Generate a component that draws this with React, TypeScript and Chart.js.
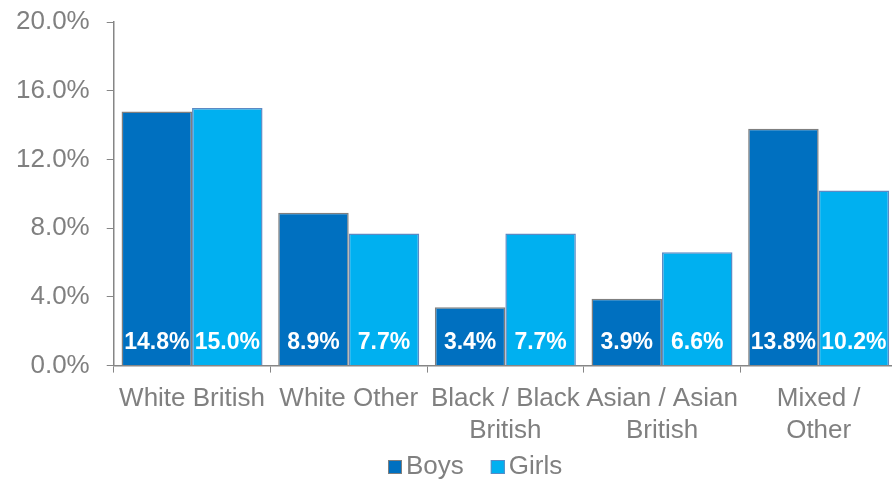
import React, { useEffect, useRef } from "react";
import { Chart, registerables } from "chart.js";

Chart.register(...registerables);

const categories: (string | string[])[] = [
  "White British",
  "White Other",
  ["Black / Black", "British"],
  ["Asian / Asian", "British"],
  ["Mixed /", "Other"],
];
const boys = [14.8, 8.9, 3.4, 3.9, 13.8];
const girls = [15.0, 7.7, 7.7, 6.6, 10.2];
const seriesNames = ["Boys", "Girls"];
const fills = ["#0070C0", "#00B0F0"];
const borders = ["#7F7F7F", "#5B8AC4"];

const FONT = "'Liberation Sans', Arial, sans-serif";
const GREY = "#808080";

const labelPlugin = {
  id: "barLabels",
  afterDatasetsDraw(chart: any) {
    const ctx = chart.ctx;
    const yScale = chart.scales.y;
    const base = yScale.getPixelForValue(0);
    ctx.save();
    ctx.fillStyle = "#FFFFFF";
    ctx.font = `bold 23px ${FONT}`;
    ctx.textAlign = "center";
    ctx.textBaseline = "middle";
    chart.data.datasets.forEach((ds: any, i: number) => {
      const meta = chart.getDatasetMeta(i);
      meta.data.forEach((bar: any, j: number) => {
        ctx.fillText(ds.data[j].toFixed(1) + "%", bar.x, base - 23);
      });
    });
    ctx.restore();
  },
};

const legendPlugin = {
  id: "customLegend",
  afterDraw(chart: any) {
    const ctx = chart.ctx;
    ctx.save();
    ctx.font = `26px ${FONT}`;
    ctx.textBaseline = "middle";
    ctx.textAlign = "left";
    const y = 467;
    let x = 388;
    chart.data.datasets.forEach((ds: any) => {
      ctx.fillStyle = ds.backgroundColor;
      ctx.fillRect(x, y - 7, 14, 14);
      ctx.strokeStyle = ds.borderColor;
      ctx.lineWidth = 1;
      ctx.strokeRect(x + 0.5, y - 6.5, 13, 13);
      ctx.fillStyle = GREY;
      ctx.fillText(ds.label, x + 18, y);
      const w = ctx.measureText(ds.label).width;
      x += 18 + w + 27;
    });
    ctx.restore();
  },
};

export default function App() {
  const ref = useRef<HTMLCanvasElement>(null);
  useEffect(() => {
    if (!ref.current) return;
    const chart = new Chart(ref.current, {
      type: "bar",
      data: {
        labels: categories,
        datasets: [
          {
            label: seriesNames[0],
            data: boys,
            backgroundColor: fills[0],
            borderColor: borders[0],
            borderWidth: 1.5,
          },
          {
            label: seriesNames[1],
            data: girls,
            backgroundColor: fills[1],
            borderColor: borders[1],
            borderWidth: 1.5,
          },
        ],
      },
      options: {
        animation: false,
        responsive: false,
        maintainAspectRatio: false,
        layout: { padding: { left: -1, right: 0, top: 16, bottom: 24 } },
        datasets: { bar: { categoryPercentage: 0.9, barPercentage: 1.0 } },
        plugins: {
          legend: { display: false },
          tooltip: { enabled: false },
        },
        scales: {
          x: {
            grid: {
              offset: true,
              drawOnChartArea: false,
              tickLength: 7,
              color: "#868686",
              tickColor: "#868686",
            },
            border: { color: "#868686", width: 1.5 },
            ticks: {
              color: GREY,
              font: { family: FONT, size: 26 },
              padding: 11,
              maxRotation: 0,
              autoSkip: false,
            },
          },
          y: {
            min: 0,
            max: 20,
            grid: {
              drawOnChartArea: false,
              tickLength: 7,
              color: "#868686",
              tickColor: "#868686",
            },
            border: { color: "#868686", width: 1.5 },
            ticks: {
              stepSize: 4,
              color: GREY,
              font: { family: FONT, size: 26, lineHeight: 0.4 },
              padding: 17,
              callback: (v: any) => Number(v).toFixed(1) + "%",
            },
          },
        },
      },
      plugins: [labelPlugin, legendPlugin],
    });
    return () => chart.destroy();
  }, []);
  return (
    <div style={{ position: "fixed", left: 0, top: 0, width: 892, height: 481, overflow: "hidden", background: "#fff" }}>
      <canvas ref={ref} width={897} height={481} style={{ width: 897, height: 481, display: "block" }} />
    </div>
  );
}
